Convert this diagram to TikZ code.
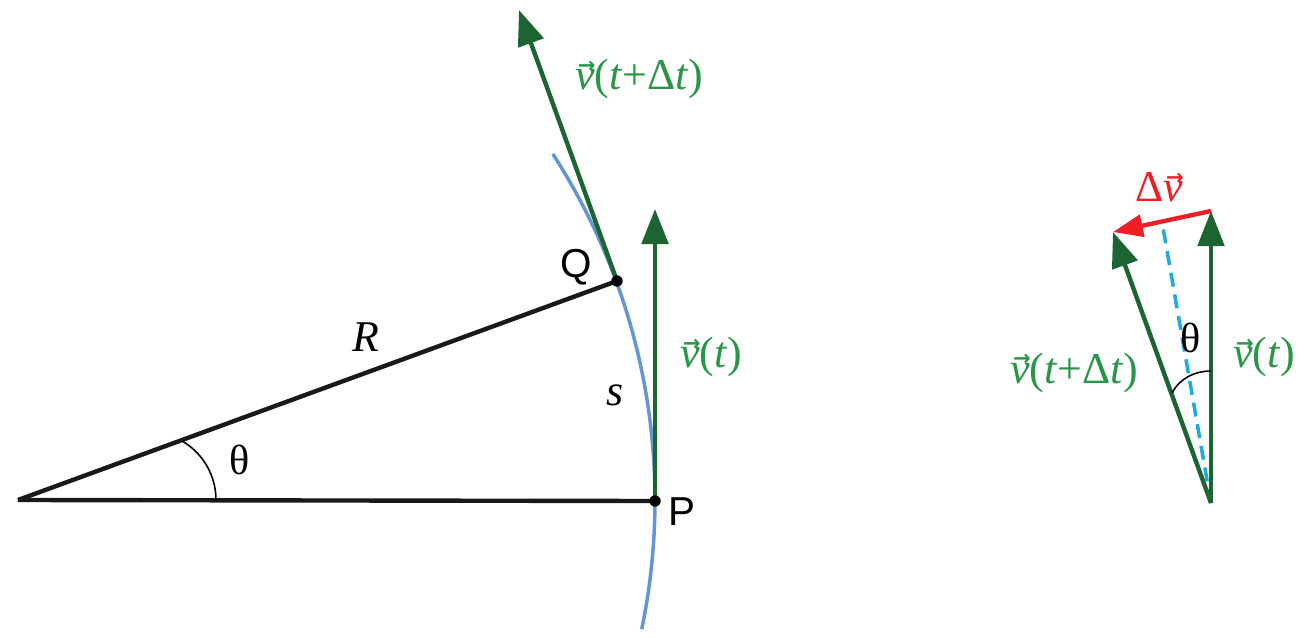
\documentclass[tikz,border=0pt]{standalone}
\usepackage{fontspec}
\usepackage{graphicx}
\setmainfont{Liberation Serif}
\newfontfamily\sanslab{Liberation Sans}
\newfontfamily\arrfont{DejaVu Sans}
\usetikzlibrary{arrows.meta}
\definecolor{vgreen}{RGB}{28,100,50}
\definecolor{lgreen}{RGB}{40,150,70}
\definecolor{dvred}{RGB}{237,30,36}
\definecolor{arcblue}{RGB}{100,150,210}
\definecolor{dashcyan}{RGB}{30,170,225}
\newcommand{\vvec}{\makebox[0pt][l]{\hspace{0.06em}\raisebox{0.40em}{\arrfont\bfseries\fontsize{12}{12}\selectfont →}}\textit{v}}
\begin{document}
\begin{tikzpicture}[x=0.02cm,y=-0.02cm,
  blackline/.style={line width=2.5pt,black!90},
  garrow/.style={line width=2.5pt,vgreen,-{Triangle[length=20pt,width=15pt]}},
  rarrow/.style={line width=2.5pt,dvred,-{Triangle[length=17pt,width=12.5pt]}},
  anglearc/.style={line width=0.9pt,black},
  dotnode/.style={circle,fill=black,inner sep=0pt,minimum size=6.5pt},
  mlabel/.style={font=\fontsize{25}{25}\selectfont,anchor=base west,inner sep=0pt},
  glabel/.style={mlabel,text=lgreen},
  slabel/.style={font=\sanslab\fontsize{23}{23}\selectfont,anchor=base west,inner sep=0pt}]
\useasboundingbox (0,0) rectangle (1308,638);
% left figure
\coordinate (O) at (18,500);
\coordinate (P) at (655,501);
\coordinate (Q) at (617,281);
\coordinate (vt) at (655,209);
\coordinate (vdt) at (519,10);
\draw[line width=2pt,arcblue] (O) ++(11.7:637) arc[start angle=11.7,end angle=-32.9,radius=637];
\draw[blackline] (O) -- (P);
\draw[blackline] (O) -- (Q);
\draw[garrow] (P) -- (vt);
\draw[garrow] (Q) -- (vdt);
\node[dotnode] (Pdot) at (P) {};
\node[dotnode] (Qdot) at (Q) {};
\draw[anglearc] (182,441) arc[start angle=-60,end angle=0,radius=68];
\node[slabel] (Qlab) at (560,278) {Q};
\node[slabel] (Plab) at (668,525) {P};
\node[mlabel] (Rlab) at (352,352) {\textit{R}};
\node[mlabel] (slab) at (606,405) {\textit{s}};
\node[mlabel,font=\fontsize{24}{24}\selectfont] (th1) at (229,474) {θ};
\node[glabel] (l1) at (575,90) {\vvec(\textit{t}+Δ\textit{t})};
\node[glabel] (l2) at (680,368) {\vvec(\textit{t})};
% right figure
\coordinate (B) at (1211,503);
\coordinate (RT) at (1211,211);
\coordinate (LT) at (1113,232);
\coordinate (M) at (1162,222);
\draw[line width=2pt,dashcyan,dash pattern=on 8pt off 4.5pt] (B) -- (M);
\draw[garrow] (B) -- (RT);
\draw[garrow] (B) -- (LT);
\draw[rarrow] (RT) -- (LT);
\draw[anglearc] (1172,393) .. controls (1180,378) and (1195,371) .. (1211,371);
\node[mlabel,font=\fontsize{24}{24}\selectfont] (th2) at (1180,353) {θ};
\node[mlabel,text=dvred] (dv) at (1135,202) {Δ\vvec};
\node[glabel] (l3) at (1010,383) {\vvec(\textit{t}+Δ\textit{t})};
\node[glabel] (l4) at (1233,368) {\vvec(\textit{t})};
\end{tikzpicture}
\end{document}
